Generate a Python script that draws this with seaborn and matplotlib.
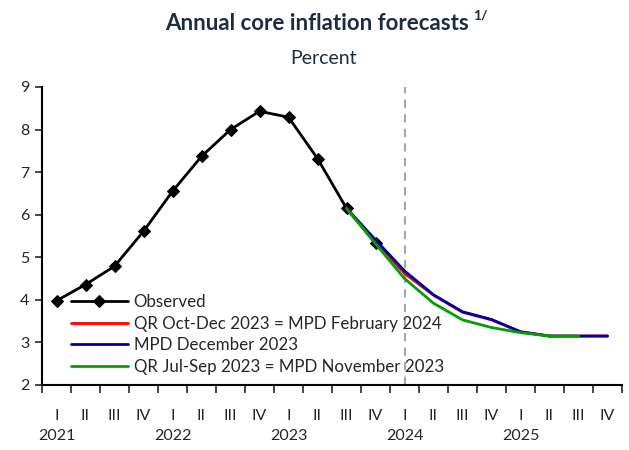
import matplotlib
matplotlib.use("Agg")
import matplotlib.pyplot as plt
import matplotlib.transforms as mtransforms
import seaborn as sns
import pandas as pd
import numpy as np

quarters = ["I", "II", "III", "IV"] * 5
years = ["2021", "2022", "2023", "2024", "2025"]

observed = [3.98, 4.36, 4.79, 5.61, 6.55, 7.37, 8.00, 8.43, 8.29, 7.32, 6.15, 5.33]
red = [6.15, 5.38, 4.62, 4.11, 3.71, 3.53, 3.25, 3.15, 3.15, 3.15]
blue = [6.15, 5.41, 4.68, 4.12, 3.72, 3.54, 3.25, 3.15, 3.15, 3.15]
green = [6.15, 5.32, 4.50, 3.92, 3.53, 3.35, 3.23, 3.15, 3.15]

labels = ["Observed", "QR Oct-Dec 2023 = MPD February 2024",
          "MPD December 2023", "QR Jul-Sep 2023 = MPD November 2023"]

sns.set_style("ticks")
plt.rcParams['font.family'] = ['Lato', 'DejaVu Sans']

fig = plt.figure(figsize=(6.29, 4.5), dpi=100)
ax = fig.add_axes([42/629, 1-385/450, 580/629, 298/450])

navy = "#1f2a44"

df_obs = pd.DataFrame({"x": np.arange(len(observed)), "y": observed})
df_red = pd.DataFrame({"x": np.arange(10, 10 + len(red)), "y": red})
df_blue = pd.DataFrame({"x": np.arange(10, 10 + len(blue)), "y": blue})
df_green = pd.DataFrame({"x": np.arange(10, 10 + len(green)), "y": green})

ax.axvline(12, color="#a6a6a6", lw=1.5, ls=(0, (4, 3)), zorder=1)

sns.lineplot(data=df_obs, x="x", y="y", ax=ax, color="black", lw=2,
             marker="D", markersize=6, markeredgecolor="black", label=labels[0], zorder=2)
sns.lineplot(data=df_red, x="x", y="y", ax=ax, color="#ff0000", lw=2, label=labels[1], zorder=3)
sns.lineplot(data=df_blue, x="x", y="y", ax=ax, color="#0000a0", lw=2, label=labels[2], zorder=4)
sns.lineplot(data=df_green, x="x", y="y", ax=ax, color="#00a000", lw=2, label=labels[3], zorder=5)

ax.set_xlim(-0.5, 19.5)
ax.set_ylim(2, 9)
ax.set_yticks(range(2, 10))
ax.tick_params(axis="y", labelsize=11.5, length=5, width=1.2, direction="out", pad=4)
ax.set_xticks(np.arange(-0.5, 20, 1))
ax.set_xticklabels([])
ax.tick_params(axis="x", which="major", length=6, width=1.2, direction="out")
ax.set_xticks(np.arange(20), minor=True)
ax.set_xticklabels(quarters, minor=True)
ax.tick_params(axis="x", which="minor", length=0, labelsize=11.5, pad=17)
trans = mtransforms.blended_transform_factory(ax.transData, ax.transAxes)
for i, yr in enumerate(years):
    ax.text(i * 4, -0.148, yr, transform=trans, ha="center", va="top", fontsize=11.5)

ax.set_xlabel("")
ax.set_ylabel("")
for s in ["top", "right"]:
    ax.spines[s].set_visible(False)
for s in ["left", "bottom"]:
    ax.spines[s].set_linewidth(1.5)
    ax.spines[s].set_color("black")

leg = ax.legend(loc="upper left", bbox_to_anchor=(0.05, 0.305), frameon=False,
                fontsize=12.2, handlelength=3.35, handletextpad=0.35, labelspacing=0.33,
                borderaxespad=0, borderpad=0)

fig.text(317/629, 1 - 24/450, "Annual core inflation forecasts", ha="center", va="center",
         fontsize=16, fontweight="bold", color=navy)
fig.text(473/629, 1 - 15/450, "1/", ha="left", va="center",
         fontsize=10, fontweight="bold", color=navy)
fig.text(324/629, 1 - 58/450, "Percent", ha="center", va="center", fontsize=14, color=navy)

fig.savefig("out.png", dpi=100)
